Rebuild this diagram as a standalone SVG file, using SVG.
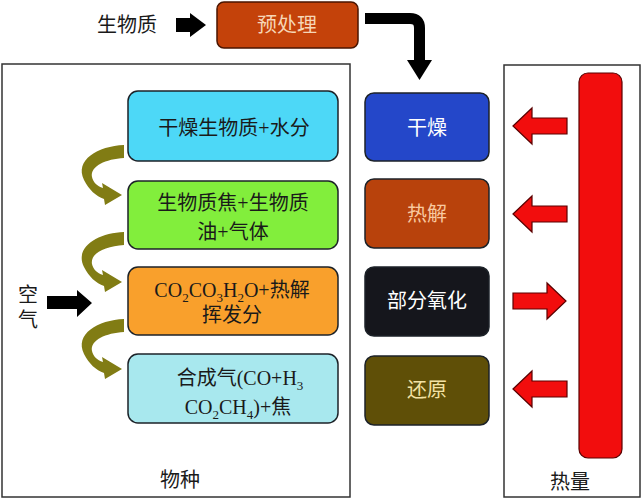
<svg xmlns="http://www.w3.org/2000/svg" xmlns:xlink="http://www.w3.org/1999/xlink" width="643" height="500" viewBox="0 0 643 500">
<style>
.t{font-family:"Liberation Serif","Noto Sans CJK SC",serif;font-size:20px;text-anchor:middle;fill:#1a1a1a}
.box{stroke:#1c2228;stroke-width:1.5}
.panel{fill:#fff;stroke:#333;stroke-width:1.5}
.red{fill:#f20d0d;stroke:#5a0000;stroke-width:1.2}
.blk{fill:#000}
.olive{fill:#817c14}
</style>
<defs>
<path id="crescent" class="olive" d="M124,145 C98,146 74,160 84,180 C89,190 96,196 104,199 L105,205 L122,195 L102,183 L103,188 C97,186 93,182 92,177 C90,166 106,159 124,158 Z"/>
<path id="larrow" class="red" d="M513,0 L532,-18 L532,-8 L567,-8 L567,8 L532,8 L532,18 Z"/>
<path id="rarrow" class="red" d="M513,-8 L547,-8 L547,-18 L566,0 L547,18 L547,8 L513,8 Z"/>
</defs>
<rect width="643" height="500" fill="#fff"/>

<g id="panel-species">
<rect class="panel" x="2" y="64" width="348" height="433"/>
<text class="t" x="180" y="487">物种</text>
</g>
<g id="panel-heat">
<rect class="panel" x="504" y="65" width="136" height="432"/>
<text class="t" x="570" y="489">热量</text>
<rect x="579" y="73" width="43" height="385" rx="9" fill="#f20d0d" stroke="#5a0000" stroke-width="1.2"/>
</g>

<g id="biomass"><text class="t" x="127" y="32" font-size="21">生物质</text></g>
<g id="air">
<text class="t" x="28" y="302" font-size="21">空</text>
<text class="t" x="28" y="327" font-size="21">气</text>
</g>

<g id="pretreat">
<rect x="217" y="2" width="141" height="46" rx="7" fill="#c4420a" stroke="#4a1500" stroke-width="1.5"/>
<text class="t" x="287" y="32" fill="#f6d6b6" style="fill:#f6d6b6">预处理</text>
</g>

<g id="dry-species">
<rect class="box" x="128" y="91" width="210" height="70" rx="10" fill="#4dd8f7"/>
<text class="t" x="234" y="135" font-size="21">干燥生物质+水分</text>
</g>
<g id="pyro-species">
<rect class="box" x="128" y="181" width="210" height="68" rx="10" fill="#82ee3c"/>
<text class="t" x="233" y="210" font-size="21">生物质焦+生物质</text>
<text class="t" x="233" y="239" font-size="21">油+气体</text>
</g>
<g id="ox-species">
<rect class="box" x="128" y="267" width="210" height="68" rx="10" fill="#f9a02c"/>
<text class="t" x="232" y="297" font-size="21">CO<tspan dy="5" font-size="13">2</tspan><tspan dy="-5">CO</tspan><tspan dy="5" font-size="13">3</tspan><tspan dy="-5">H</tspan><tspan dy="5" font-size="13">2</tspan><tspan dy="-5">O+热解</tspan></text>
<text class="t" x="232" y="322" font-size="21">挥发分</text>
</g>
<g id="red-species">
<rect class="box" x="128" y="354" width="210" height="69" rx="10" fill="#a8e8ee"/>
<text class="t" x="240" y="385" font-size="21">合成气(CO+H<tspan dy="5" font-size="13">3</tspan></text>
<text class="t" x="238" y="414" font-size="21">CO<tspan dy="5" font-size="13">2</tspan><tspan dy="-5">CH</tspan><tspan dy="5" font-size="13">4</tspan><tspan dy="-5">)+焦</tspan></text>
</g>

<g id="dry">
<rect class="box" x="365" y="93" width="124" height="68" rx="9" fill="#2447c9"/>
<text class="t" x="427" y="135" style="fill:#ffffff">干燥</text>
</g>
<g id="pyrolysis">
<rect class="box" x="365" y="179" width="124" height="69" rx="9" fill="#b8420c"/>
<text class="t" x="427" y="221" style="fill:#f8c9a0">热解</text>
</g>
<g id="partial-ox">
<rect class="box" x="365" y="267" width="124" height="69" rx="9" fill="#15161c"/>
<text class="t" x="427" y="308" style="fill:#ffffff">部分氧化</text>
</g>
<g id="reduction">
<rect class="box" x="365" y="356" width="124" height="69" rx="9" fill="#5f4f07"/>
<text class="t" x="427" y="397" style="fill:#f3e2a4">还原</text>
</g>

<g id="connectors">
<path class="blk" d="M176,18 H190 V13 L206,25 L190,37 V32 H176 Z"/>
<path d="M365,18.5 H410 Q419.5,18.5 419.5,28 V62" fill="none" stroke="#000" stroke-width="11"/>
<path class="blk" d="M407,60 H432 L419.5,80 Z"/>
<path class="blk" d="M47,296 H77 V290 L92,303 L77,317 V309 H47 Z"/>
<use xlink:href="#crescent"/>
<use xlink:href="#crescent" transform="translate(0,87)"/>
<use xlink:href="#crescent" transform="translate(0,174)"/>
<use xlink:href="#larrow" transform="translate(0,126)"/>
<use xlink:href="#larrow" transform="translate(0,214)"/>
<use xlink:href="#rarrow" transform="translate(0,301)"/>
<use xlink:href="#larrow" transform="translate(0,389)"/>
</g>
</svg>
